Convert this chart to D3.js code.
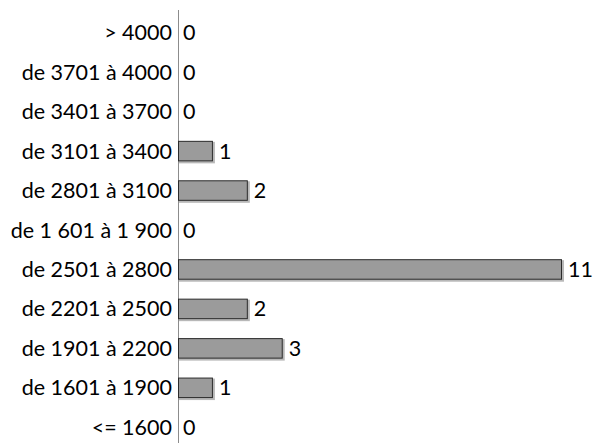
<!DOCTYPE html>
<html>
<head>
<meta charset="utf-8">
<script src="https://cdn.jsdelivr.net/npm/d3@7"></script>
<style>
  body { margin: 0; background: #fff; }
  text { font-family: Lato, "Open Sans", sans-serif; }
</style>
</head>
<body>
<svg id="chart"></svg>
<script>
// categories, top to bottom as in the picture
const categories = [
  '> 4000', 'de 3701 à 4000', 'de 3401 à 3700', 'de 3101 à 3400',
  'de 2801 à 3100', 'de 1 601 à 1 900', 'de 2501 à 2800', 'de 2201 à 2500',
  'de 1901 à 2200', 'de 1601 à 1900', '<= 1600'
];
const counts = [0, 0, 0, 1, 2, 0, 11, 2, 3, 1, 0];

const [W, H] = [593, 443];
const svg = d3.select('svg#chart').attr('width', W).attr('height', H);

const x = d3.scaleLinear().domain([0, 11]).range([178, 562]);
const y = d3.scaleBand().domain(categories).range([13, 447]).paddingInner(0.48).paddingOuter(0.24);

const data = categories.map((c, i) => ({cat: c, n: counts[i]}));

// axis line
svg.append('line')
  .attr('x1', x(0) + 0.5).attr('x2', x(0) + 0.5)
  .attr('y1', 10).attr('y2', H)
  .style('stroke', '#8c8c8c').style('stroke-width', 1);

// category labels
svg.selectAll('text.cat')
  .data(data)
  .enter().append('text')
  .attr('class', 'cat')
  .attr('x', x(0) - 6)
  .attr('y', d => y(d.cat) + y.bandwidth() / 2)
  .attr('dy', '0.35em')
  .style('text-anchor', 'end')
  .style('font-size', '21.5px')
  .style('fill', '#000')
  .text(d => d.cat);

const bars = data.filter(d => d.n > 0);

// light shadow behind bars
svg.selectAll('rect.shadow')
  .data(bars)
  .enter().append('rect')
  .attr('class', 'shadow')
  .attr('x', x(0) + 1)
  .attr('y', d => y(d.cat) + 1)
  .attr('width', d => x(d.n) - x(0) + 1)
  .attr('height', y.bandwidth() + 1)
  .style('fill', '#b8b8b8');

svg.selectAll('rect.bar')
  .data(bars)
  .enter().append('rect')
  .attr('class', 'bar')
  .attr('x', x(0) + 0.5)
  .attr('y', d => y(d.cat) + 0.5)
  .attr('width', d => x(d.n) - x(0) - 1)
  .attr('height', y.bandwidth() - 1)
  .style('fill', '#9b9b9b')
  .style('stroke', '#2b2b2b')
  .style('stroke-width', 1);

// value labels
svg.selectAll('text.val')
  .data(data)
  .enter().append('text')
  .attr('class', 'val')
  .attr('x', d => x(d.n) + (d.n > 0 ? 6 : 5))
  .attr('y', d => y(d.cat) + y.bandwidth() / 2)
  .attr('dy', '0.35em')
  .style('font-size', '21.5px')
  .style('fill', '#000')
  .text(d => d.n);
</script>
</body>
</html>
